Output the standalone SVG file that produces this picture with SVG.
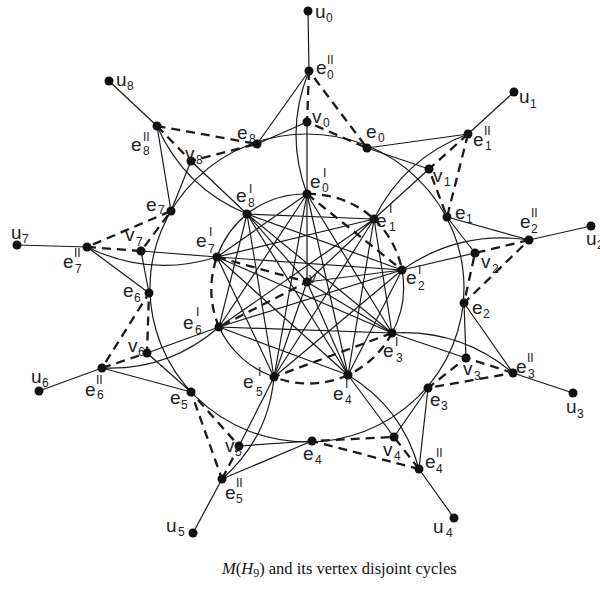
<svg xmlns="http://www.w3.org/2000/svg" width="600" height="590" viewBox="0 0 600 590">
<style>
.s{fill:none;stroke:#1a1a1a;stroke-width:1.2}
.d{fill:none;stroke:#1a1a1a;stroke-width:2.3;stroke-dasharray:9 6}
.n{fill:#111}
.lb{font-family:"Liberation Sans",Arial,sans-serif;font-size:19px;fill:#222}
.sb{font-size:12px}
.sp{font-size:12px}
.cap{font-family:"Liberation Serif","Times New Roman",serif;font-size:16.5px;fill:#111}
</style>
<rect width="600" height="590" fill="#fff"/>
<g id="connectors">
<ellipse class="s" cx="307" cy="288" rx="157" ry="154"/>
<path class="s" d="M402,270 A95.5,95.5 0 0 1 392,333 M274,377 A95.5,95.5 0 0 1 219,327 M217,257 A95.5,95.5 0 0 1 247,214 M247,214 A95.5,95.5 0 0 1 307,194"/>
<path class="d" d="M307,194 A95.5,95.5 0 0 1 374,219 M374,219 A95.5,95.5 0 0 1 402,270 M392,333 A95.5,95.5 0 0 1 348,375 M348,375 A95.5,95.5 0 0 1 274,377 M219,327 A95.5,95.5 0 0 1 217,257"/>
<path class="s" d="M307,194L392,333M307,194L348,375M307,194L274,377M307,194L219,327M307,194L217,257
M374,219L392,333M374,219L348,375M374,219L274,377M374,219L219,327M374,219L217,257M374,219L247,214
M402,270L348,375M402,270L274,377M402,270L219,327M402,270L217,257M402,270L247,214
M392,333L219,327M392,333L217,257M392,333L247,214
M348,375L219,327M348,375L217,257M348,375L247,214
M274,377L217,257M274,377L247,214
M219,327L247,214"/>
<path class="d" d="M307,194L402,270M392,333L274,377"/>
<path class="s" d="M307,282L307,194M307,282L374,219M307,282L402,270M307,282L392,333M307,282L348,375M307,282L274,377M307,282L247,214"/>
<path class="d" d="M217,257L307,282L219,327"/>
<path class="s" d="M308,11L309,71M514,92L468,134M591,226L529,240M573,393L513,373M454,518L419,469M193,533L222,479M39,391L102,368M17,245L87,247M109,81L157,126"/>
<path class="s" d="M309,71L257,144M468,134L367,148M529,240L447,217M513,373L464,303M419,469L428,388M222,479L312,441M102,368L191,392M87,247L149,293M157,126L171,211"/>
<path class="s" d="M307,122L257,144M429,169L367,148M475,253L447,217M466,358L464,303M394,437L428,388M239,446L312,441M147,353L191,392M141,251L149,293M191,161L171,211"/>
<path class="s" d="M307,122L307,194M429,169L374,219M475,253L402,270M466,358L392,333M394,437L348,375M239,446L274,377M147,353L219,327M141,251L217,257M191,161L247,214"/>
<path class="s" d="M309,71Q284,132 307,194M468,134Q404,158 374,219M529,240Q459.5,229.6 402,270M513,373Q460.5,328.8 392,333M419,469Q402.3,407.8 348,375M222,479Q268.4,438.4 274,377M102,368Q168.7,370.9 219,327M87,247Q150,277.9 217,257M157,126Q184.4,188 247,214"/>
<path class="d" d="M309,71L307,122L367,148Z"/>
<path class="d" d="M468,134L429,169L447,217Z"/>
<path class="d" d="M529,240L475,253L464,303Z"/>
<path class="d" d="M513,373L466,358L428,388Z"/>
<path class="d" d="M419,469L394,437L312,441Z"/>
<path class="d" d="M222,479L239,446L191,392Z"/>
<path class="d" d="M102,368L147,353L149,293Z"/>
<path class="d" d="M87,247L141,251L171,211Z"/>
<path class="d" d="M157,126L191,161L257,144Z"/>
</g>
<g id="w"><circle class="n" cx="307" cy="282" r="4.5"/><text class="lb" x="309" y="283" style="font-size:14px">v</text></g>
<g id="u0"><circle class="n" cx="308" cy="11" r="4.5"/><text class="lb" x="315" y="18">u<tspan class="sb" x="326" y="22">0</tspan></text></g>
<g id="e2_0"><circle class="n" cx="309" cy="71" r="4.5"/><text class="lb" x="316" y="74">e<tspan class="sp" x="327" y="64">II</tspan><tspan class="sb" x="327" y="79">0</tspan></text></g>
<g id="v0"><circle class="n" cx="307" cy="122" r="4.5"/><text class="lb" x="312" y="123">v<tspan class="sb" x="323" y="127">0</tspan></text></g>
<g id="e0"><circle class="n" cx="367" cy="148" r="4.5"/><text class="lb" x="366" y="138">e<tspan class="sb" x="378" y="142">0</tspan></text></g>
<g id="e1_0"><circle class="n" cx="307" cy="194" r="4.5"/><text class="lb" x="310" y="188">e<tspan class="sp" x="323" y="177">I</tspan><tspan class="sb" x="322" y="192">0</tspan></text></g>
<g id="u1"><circle class="n" cx="514" cy="92" r="4.5"/><text class="lb" x="519" y="103">u<tspan class="sb" x="530" y="108">1</tspan></text></g>
<g id="e2_1"><circle class="n" cx="468" cy="134" r="4.5"/><text class="lb" x="473" y="146">e<tspan class="sp" x="484" y="135">II</tspan><tspan class="sb" x="485" y="150">1</tspan></text></g>
<g id="v1"><circle class="n" cx="429" cy="169" r="4.5"/><text class="lb" x="433" y="182">v<tspan class="sb" x="444" y="186">1</tspan></text></g>
<g id="e1"><circle class="n" cx="447" cy="217" r="4.5"/><text class="lb" x="455" y="219">e<tspan class="sb" x="466" y="223">1</tspan></text></g>
<g id="e1_1"><circle class="n" cx="374" cy="219" r="4.5"/><text class="lb" x="376" y="227">e<tspan class="sp" x="389" y="213">I</tspan><tspan class="sb" x="389" y="231">1</tspan></text></g>
<g id="u2"><circle class="n" cx="591" cy="226" r="4.5"/><text class="lb" x="586" y="245">u<tspan class="sb" x="597" y="249">2</tspan></text></g>
<g id="e2_2"><circle class="n" cx="529" cy="240" r="4.5"/><text class="lb" x="520" y="228">e<tspan class="sp" x="531" y="217">II</tspan><tspan class="sb" x="531" y="233">2</tspan></text></g>
<g id="v2"><circle class="n" cx="475" cy="253" r="4.5"/><text class="lb" x="481" y="268">v<tspan class="sb" x="492" y="273">2</tspan></text></g>
<g id="e2"><circle class="n" cx="464" cy="303" r="4.5"/><text class="lb" x="472" y="314">e<tspan class="sb" x="483" y="318">2</tspan></text></g>
<g id="e1_2"><circle class="n" cx="402" cy="270" r="4.5"/><text class="lb" x="406" y="284">e<tspan class="sp" x="418" y="274">I</tspan><tspan class="sb" x="418" y="290">2</tspan></text></g>
<g id="u3"><circle class="n" cx="573" cy="393" r="4.5"/><text class="lb" x="566" y="413">u<tspan class="sb" x="577" y="418">3</tspan></text></g>
<g id="e2_3"><circle class="n" cx="513" cy="373" r="4.5"/><text class="lb" x="516" y="373">e<tspan class="sp" x="527" y="362">II</tspan><tspan class="sb" x="528" y="378">3</tspan></text></g>
<g id="v3"><circle class="n" cx="466" cy="358" r="4.5"/><text class="lb" x="463" y="375">v<tspan class="sb" x="474" y="380">3</tspan></text></g>
<g id="e3"><circle class="n" cx="428" cy="388" r="4.5"/><text class="lb" x="430" y="406">e<tspan class="sb" x="441" y="410">3</tspan></text></g>
<g id="e1_3"><circle class="n" cx="392" cy="333" r="4.5"/><text class="lb" x="383" y="357">e<tspan class="sp" x="395" y="346">I</tspan><tspan class="sb" x="396" y="362">3</tspan></text></g>
<g id="u4"><circle class="n" cx="454" cy="518" r="4.5"/><text class="lb" x="433" y="533">u<tspan class="sb" x="446" y="537">4</tspan></text></g>
<g id="e2_4"><circle class="n" cx="419" cy="469" r="4.5"/><text class="lb" x="425" y="468">e<tspan class="sp" x="436" y="457">II</tspan><tspan class="sb" x="436" y="473">4</tspan></text></g>
<g id="v4"><circle class="n" cx="394" cy="437" r="4.5"/><text class="lb" x="383" y="456">v<tspan class="sb" x="394" y="460">4</tspan></text></g>
<g id="e4"><circle class="n" cx="312" cy="441" r="4.5"/><text class="lb" x="303" y="460">e<tspan class="sb" x="315" y="464">4</tspan></text></g>
<g id="e1_4"><circle class="n" cx="348" cy="375" r="4.5"/><text class="lb" x="333" y="400">e<tspan class="sp" x="345" y="388">I</tspan><tspan class="sb" x="345" y="404">4</tspan></text></g>
<g id="u5"><circle class="n" cx="193" cy="533" r="4.5"/><text class="lb" x="166" y="532">u<tspan class="sb" x="178" y="536">5</tspan></text></g>
<g id="e2_5"><circle class="n" cx="222" cy="479" r="4.5"/><text class="lb" x="225" y="499">e<tspan class="sp" x="236" y="487">II</tspan><tspan class="sb" x="236" y="503">5</tspan></text></g>
<g id="v5"><circle class="n" cx="239" cy="446" r="4.5"/><text class="lb" x="225" y="452">v<tspan class="sb" x="235" y="456">5</tspan></text></g>
<g id="e5"><circle class="n" cx="191" cy="392" r="4.5"/><text class="lb" x="170" y="404">e<tspan class="sb" x="181" y="409">5</tspan></text></g>
<g id="e1_5"><circle class="n" cx="274" cy="377" r="4.5"/><text class="lb" x="243" y="388">e<tspan class="sp" x="258" y="376">I</tspan><tspan class="sb" x="256" y="396">5</tspan></text></g>
<g id="u6"><circle class="n" cx="39" cy="391" r="4.5"/><text class="lb" x="31" y="383">u<tspan class="sb" x="42" y="387">6</tspan></text></g>
<g id="e2_6"><circle class="n" cx="102" cy="368" r="4.5"/><text class="lb" x="85" y="396">e<tspan class="sp" x="96" y="384">II</tspan><tspan class="sb" x="97" y="399">6</tspan></text></g>
<g id="v6"><circle class="n" cx="147" cy="353" r="4.5"/><text class="lb" x="128" y="352">v<tspan class="sb" x="138" y="356">6</tspan></text></g>
<g id="e6"><circle class="n" cx="149" cy="293" r="4.5"/><text class="lb" x="123" y="297">e<tspan class="sb" x="134" y="302">6</tspan></text></g>
<g id="e1_6"><circle class="n" cx="219" cy="327" r="4.5"/><text class="lb" x="183" y="329">e<tspan class="sp" x="196" y="316">I</tspan><tspan class="sb" x="195" y="334">6</tspan></text></g>
<g id="u7"><circle class="n" cx="17" cy="245" r="4.5"/><text class="lb" x="11" y="239">u<tspan class="sb" x="22" y="243">7</tspan></text></g>
<g id="e2_7"><circle class="n" cx="87" cy="247" r="4.5"/><text class="lb" x="63" y="268">e<tspan class="sp" x="74" y="257">II</tspan><tspan class="sb" x="75" y="273">7</tspan></text></g>
<g id="v7"><circle class="n" cx="141" cy="251" r="4.5"/><text class="lb" x="125" y="241">v<tspan class="sb" x="136" y="246">7</tspan></text></g>
<g id="e7"><circle class="n" cx="171" cy="211" r="4.5"/><text class="lb" x="146" y="211">e<tspan class="sb" x="158" y="214">7</tspan></text></g>
<g id="e1_7"><circle class="n" cx="217" cy="257" r="4.5"/><text class="lb" x="196" y="247">e<tspan class="sp" x="209" y="236">I</tspan><tspan class="sb" x="208" y="253">7</tspan></text></g>
<g id="u8"><circle class="n" cx="109" cy="81" r="4.5"/><text class="lb" x="116" y="86">u<tspan class="sb" x="127" y="90">8</tspan></text></g>
<g id="e2_8"><circle class="n" cx="157" cy="126" r="4.5"/><text class="lb" x="131" y="151">e<tspan class="sp" x="143" y="141">II</tspan><tspan class="sb" x="143" y="155">8</tspan></text></g>
<g id="v8"><circle class="n" cx="191" cy="161" r="4.5"/><text class="lb" x="185" y="160">v<tspan class="sb" x="196" y="164">8</tspan></text></g>
<g id="e8"><circle class="n" cx="257" cy="144" r="4.5"/><text class="lb" x="237" y="139">e<tspan class="sb" x="249" y="143">8</tspan></text></g>
<g id="e1_8"><circle class="n" cx="247" cy="214" r="4.5"/><text class="lb" x="236" y="202">e<tspan class="sp" x="249" y="193">I</tspan><tspan class="sb" x="248" y="207">8</tspan></text></g>
<text class="cap" x="222" y="574"><tspan font-style="italic">M</tspan>(<tspan font-style="italic">H</tspan><tspan font-size="12" dy="3">9</tspan><tspan dy="-3">) and its vertex disjoint cycles</tspan></text>
</svg>
